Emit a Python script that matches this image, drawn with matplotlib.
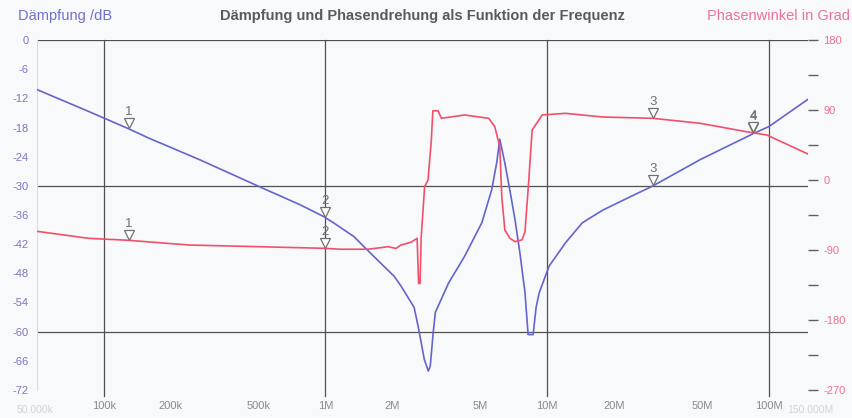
import numpy as np
import matplotlib
matplotlib.use("Agg")
import matplotlib.pyplot as plt
from matplotlib import transforms

plt.rcParams["font.family"] = ["Liberation Sans", "DejaVu Sans"]

# ---- data ----
att_freq = [50e3, 85.5e3, 128.6e3, 160e3, 270e3, 522e3, 769e3, 979e3, 1.087e6, 1.34e6,
            1.65e6, 2.04e6, 2.19e6, 2.51e6, 2.62e6, 2.79e6, 2.91e6, 2.97e6, 3.06e6, 3.13e6,
            3.59e6, 4.24e6, 5.07e6, 5.62e6, 5.93e6, 6.11e6, 6.44e6, 6.79e6, 7.16e6, 7.54e6,
            7.94e6, 8.20e6, 8.64e6, 8.91e6, 9.20e6, 10.2e6, 12.1e6, 14.4e6, 17.8e6, 21.9e6,
            30e6, 49e6, 85.5e6, 100e6, 150e6]
att_db = [-10.2, -14.7, -18.2, -20.2, -24.6, -30.5, -33.9, -36.3, -37.6, -40.4,
          -44.5, -48.6, -50.6, -55.0, -59.0, -65.7, -68.1, -67.0, -60.2, -56.0,
          -50.0, -44.5, -37.6, -30.8, -25.0, -20.4, -25.3, -31.0, -37.0, -44.0,
          -52.0, -60.6, -60.6, -55.0, -52.0, -46.5, -41.7, -37.6, -35.0, -33.0,
          -30.0, -24.6, -19.2, -17.8, -12.2]

ph_freq = [50e3, 85.5e3, 128.6e3, 243e3, 491e3, 979e3, 1.17e6, 1.55e6, 1.78e6, 1.91e6,
           2.08e6, 2.19e6, 2.43e6, 2.59e6, 2.63e6, 2.67e6, 2.70e6, 2.80e6, 2.90e6, 3.00e6,
           3.05e6, 3.22e6, 3.33e6, 4.24e6, 5.45e6, 5.80e6, 6.11e6, 6.24e6, 6.44e6, 6.79e6,
           7.16e6, 7.70e6, 7.94e6, 8.26e6, 8.55e6, 9.49e6, 12.1e6, 17.8e6, 30e6, 49e6,
           79.4e6, 97.9e6, 150e6]
ph_deg = [-66.0, -75.0, -77.5, -83.6, -85.7, -87.8, -89.0, -89.0, -87.0, -85.7,
          -88.0, -83.6, -80.0, -75.0, -133.0, -133.0, -75.0, -8.6, 0.0, 50.0,
          89.0, 89.0, 79.3, 83.6, 79.3, 68.6, 42.9, -21.5, -64.3, -75.0,
          -79.3, -77.0, -66.4, 0.0, 64.3, 83.6, 85.7, 81.0, 79.3, 72.9,
          62.0, 57.8, 33.4]

marker_freq = [130e3, 1e6, 30e6, 85e6]
marker_names = ["1", "2", "3", "4"]

xtick_vals = [100e3, 200e3, 500e3, 1e6, 2e6, 5e6, 10e6, 20e6, 50e6, 100e6]
xtick_labels = ["100k", "200k", "500k", "1M", "2M", "5M", "10M", "20M", "50M", "100M"]
ytick_left = list(range(0, -73, -6))
ytick_right = list(range(180, -271, -45))

# ---- styling ----
bg = "#f7f9fb"
blue = "#6464cc"
red = "#f2506a"
grid_c = "#505050"

fig = plt.figure(figsize=(8.52, 4.18), dpi=100, facecolor=bg)
ax = fig.add_axes([37/852, 1-390/418, (808-37)/852, 350/418])
ax.set_facecolor(bg)
ax.set_xscale("log")
ax.set_xlim(50e3, 150e6)
ax.set_ylim(-72, 0)

ax2 = ax.twinx()
ax2.set_ylim(-270, 180)

for a in (ax, ax2):
    for s in a.spines.values():
        s.set_visible(False)
ax.spines["left"].set_visible(True)
ax.spines["left"].set_color("#d8dce4")
ax.spines["left"].set_linewidth(0.8)

# grid lines
for yv in (0, -30, -60):
    ax.axhline(yv, color=grid_c, lw=0.9, zorder=1)
for xv in (100e3, 1e6, 10e6, 100e6):
    ax.plot([xv, xv], [0, -73.2], color=grid_c, lw=0.9, zorder=1, clip_on=False)

# curves
ax.plot(att_freq, att_db, color=blue, lw=1.2, zorder=3)
ax2.plot(ph_freq, ph_deg, color=red, lw=1.2, zorder=3)

# markers
lf_att = np.log10(att_freq)
lf_ph = np.log10(ph_freq)
for f, name in zip(marker_freq, marker_names):
    for a, lf, vals in ((ax, lf_att, att_db), (ax2, lf_ph, ph_deg)):
        v = np.interp(np.log10(f), lf, vals)
        tr = transforms.offset_copy(a.transData, fig=fig, x=0, y=4, units="points")
        a.plot([f], [v], marker="v", ms=7, mfc="white", mec="#707070", mew=0.9,
               transform=tr, zorder=5, clip_on=False)
        a.annotate(name, (f, v), xytext=(0, 12), textcoords="offset points",
                   ha="center", va="center", fontsize=9.5, color="#707070", zorder=6)

# ticks
ax.set_yticks(ytick_left)
ax.set_yticklabels([str(t) for t in ytick_left])
ax.tick_params(axis="y", length=0, pad=6, labelsize=8, labelcolor="#7878c4")
ax.set_xticks(xtick_vals)
ax.set_xticklabels(xtick_labels)
ax.xaxis.set_minor_locator(matplotlib.ticker.NullLocator())
ax.tick_params(axis="x", length=0, pad=8, labelsize=8, labelcolor="#8a8a8a")

ax2.set_yticks(ytick_right)
ax2.set_yticklabels([str(t) if t % 90 == 0 else "" for t in ytick_right])
ax2.tick_params(axis="y", direction="out", length=7, width=1.0, color="#606060",
                pad=4, labelsize=8, labelcolor="#f07090")
for t in ax2.yaxis.get_major_ticks():
    t.tick1line.set_visible(False)

# texts
fig.text(18/852, 1-16/418, "Dämpfung /dB", fontsize=10.5, color="#7070cc", ha="left", va="center")
fig.text(422/852, 1-16/418, "Dämpfung und Phasendrehung als Funktion der Frequenz",
         fontsize=10.5, color="#5a5a5a", ha="center", va="center", fontweight="bold")
fig.text(850/852, 1-16/418, "Phasenwinkel in Grad", fontsize=10.5, color="#f070a0",
         ha="right", va="center")
fig.text(35/852, 1-410/418, "50.000k", fontsize=7.5, color="#d0d4dc", ha="center", va="center")
fig.text(810/852, 1-410/418, "150.000M", fontsize=7.5, color="#d0d4dc", ha="center", va="center")

fig.savefig("out.png", dpi=100, facecolor=bg)
